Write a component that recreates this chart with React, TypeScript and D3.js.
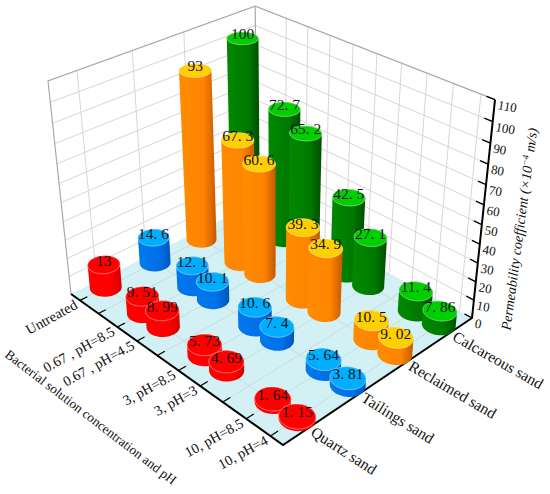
import * as d3 from "d3";

type Pt = [number, number];

const sands = ["Quartz sand", "Tailings sand", "Reclaimed sand", "Calcareous sand"];
const sandPositions = [1, 2, 3, 4];
const sandLabelAngles = [33, 32, 30.5, 29.5];
const categories = ["Untreated", "0.67 , pH=8.5", "0.67 , pH=4.5", "3, pH=8.5", "3, pH=3", "10, pH=8.5", "10, pH=4"];
const categoryPositions = [1, 3, 4, 6, 7, 9, 10];
const categoryTicks = [1, 2, 3, 4, 5, 6, 7, 8, 9, 10];
const zTicks = [0, 10, 20, 30, 40, 50, 60, 70, 80, 90, 100, 110];

const quartz = [13, 9.51, 8.99, 5.73, 4.69, 1.64, 1.15];
const tailings = [14.6, 12.1, 10.1, 10.6, 7.4, 5.64, 3.81];
const reclaimed = [93, 67.3, 60.6, 39.3, 34.9, 10.5, 9.02];
const calcareous = [100, 72.7, 65.2, 42.5, 27.1, 11.4, 7.86];
const sandValues = [quartz, tailings, reclaimed, calcareous];

const topColors = ["#ff0000", "#00aeff", "#ffd000", "#00d000"];
const sideStops = [
  ["#ff0000", "#ff0000", "#d40000"],
  ["#0078ee", "#0070e8", "#0056c0"],
  ["#ff8c00", "#ff8400", "#c45a00"],
  ["#008a00", "#007800", "#004c00"],
];

// picture corners of the box, the projection is solved from them
const cornerL: Pt = [71, 294];
const cornerF: Pt = [283, 445];
const cornerR: Pt = [472, 318];
const cornerB: Pt = [257, 202];
const cornerLT: Pt = [48, 81];
const cornerRT: Pt = [495, 98];

function buildCamera() {
  const [x0, y0] = cornerL, [x1, y1] = cornerF, [x2, y2] = cornerR, [x3, y3] = cornerB;
  const sx = x0 - x1 + x2 - x3;
  const sy = y0 - y1 + y2 - y3;
  const dx1 = x1 - x2, dx2 = x3 - x2, dy1 = y1 - y2, dy2 = y3 - y2;
  const det = dx1 * dy2 - dx2 * dy1;
  const g = (sx * dy2 - dx2 * sy) / det;
  const h = (dx1 * sy - sx * dy1) / det;
  const c1 = [x1 - x0 + g * x1, y1 - y0 + g * y1, g];
  const c2 = [x3 - x0 + h * x3, y3 - y0 + h * y3, h];
  const c4 = [x0, y0, 1];
  const lt = [cornerLT[0], cornerLT[1], 1];
  const s = [c1[0] + c2[0], c1[1] + c2[1], c1[2] + c2[2]];
  const k = (s[0] - cornerRT[0] * s[2]) / (cornerRT[0] - lt[0]);
  const c3 = [k * lt[0] - c4[0], k * lt[1] - c4[1], k - c4[2]];
  return (a: number, b: number, c: number): Pt => {
    const w = c1[2] * a + c2[2] * b + c3[2] * c + c4[2];
    return [
      (c1[0] * a + c2[0] * b + c3[0] * c + c4[0]) / w,
      (c1[1] * a + c2[1] * b + c3[1] * c + c4[1]) / w,
    ];
  };
}

const project = buildCamera();
const uScale = d3.scaleLinear().domain([0.5, 10.5]).range([0, 1]);
const vScale = d3.scaleLinear().domain([0.5, 4.5]).range([0, 1]);
const zScale = d3.scaleLinear().domain([0, 110]).range([0, 1]);

// floor fractions are not a true square, these keep the rims level
const RADIUS_A = 0.054;
const RADIUS_B = 0.0615;
const angles = d3.range(0, Math.PI * 2, Math.PI / 24);
const linePath = d3.line<Pt>();

const seg = (p: Pt, q: Pt) => linePath([p, q]) as string;
const poly = (pts: Pt[]) => (linePath(pts) as string) + "Z";

function circleAt(a: number, b: number, c: number): Pt[] {
  return angles.map((t) => project(a + RADIUS_A * Math.cos(t), b + RADIUS_B * Math.sin(t), c));
}

const bars = sandValues
  .flatMap((values, si) =>
    values.map((value, ci) => {
      const a = uScale(categoryPositions[ci]);
      const b = vScale(sandPositions[si]);
      const c = zScale(value);
      const base = circleAt(a, b, 0);
      const top = circleAt(a, b, c);
      return {
        si,
        value,
        depth: a - b,
        body: d3.polygonHull([...base, ...top]) as Pt[],
        top,
        center: project(a, b, c),
      };
    })
  )
  .sort((p, q) => d3.ascending(p.depth, q.depth));

const serif = "'Liberation Serif', 'Times New Roman', serif";

export default function App() {
  const floor = [project(0, 0, 0), project(1, 0, 0), project(1, 1, 0), project(0, 1, 0)];
  const grey = "#d6d6d6";
  const edge = "#a9a9a9";

  return (
    <svg
      width={550}
      height={494}
      style={{ position: "absolute", left: 0, top: 0, display: "block", background: "#fff" }}
      fontFamily={serif}
    >
      <defs>
        {sideStops.map((stops, i) => (
          <linearGradient key={i} id={`side-${i}`} x1="0" y1="0" x2="1" y2="0">
            <stop offset="0%" stopColor={stops[0]} />
            <stop offset="65%" stopColor={stops[1]} />
            <stop offset="100%" stopColor={stops[2]} />
          </linearGradient>
        ))}
      </defs>

      {/* back walls */}
      <g fill="none" stroke={grey} strokeWidth={1}>
        {zTicks.slice(1, -1).map((z) => (
          <path key={z} d={linePath([project(0, 0, zScale(z)), project(0, 1, zScale(z)), project(1, 1, zScale(z))]) as string} />
        ))}
        {sandPositions.slice(0, 3).map((v) => (
          <path key={v} d={seg(project(0, vScale(v), 0), project(0, vScale(v), 1))} />
        ))}
        {categoryTicks.slice(1).map((u) => (
          <path key={u} d={seg(project(uScale(u), 1, 0), project(uScale(u), 1, 1))} />
        ))}
      </g>
      <path
        d={linePath([project(0, 0, 0), project(0, 0, 1), project(0, 1, 1), project(1, 1, 1)]) as string}
        fill="none"
        stroke={edge}
        strokeWidth={1.2}
      />
      <path d={seg(project(0, 1, 0), project(0, 1, 1))} fill="none" stroke={edge} strokeWidth={1.2} />

      {/* floor */}
      <path d={poly(floor)} fill="#d3f1f4" />
      <g fill="none" stroke="#c4dde0" strokeWidth={1}>
        {categoryTicks.map((u) => (
          <path key={u} d={seg(project(uScale(u), 0, 0), project(uScale(u), 1, 0))} />
        ))}
        {sandPositions.map((v) => (
          <path key={v} d={seg(project(0, vScale(v), 0), project(1, vScale(v), 0))} />
        ))}
      </g>

      {/* axes */}
      <g fill="none" stroke="#000">
        <path d={linePath([project(0, 0, 0), project(1, 0, 0), project(1, 1, 0), project(1, 1, 1)]) as string} strokeWidth={2} />
        {categoryTicks.map((u) => (
          <path key={u} d={seg(project(uScale(u), 0, 0), project(uScale(u), 0.035, 0))} strokeWidth={1.2} />
        ))}
        {sandPositions.map((v) => (
          <path key={v} d={seg(project(1, vScale(v), 0), project(0.97, vScale(v), 0))} strokeWidth={1.2} />
        ))}
        {zTicks.map((z) => (
          <path key={z} d={seg(project(1, 1, zScale(z)), project(0.97, 1, zScale(z)))} strokeWidth={1.4} />
        ))}
      </g>

      {/* cylinders, far ones first */}
      {bars.map((bar, i) => (
        <g key={i}>
          <path d={poly(bar.body)} fill={`url(#side-${bar.si})`} />
          <path d={poly(bar.top)} fill={topColors[bar.si]} stroke="#fff" strokeOpacity={0.4} strokeWidth={1} />
        </g>
      ))}

      {/* value labels */}
      <g fontSize={15.5} fill="#141414" textAnchor="middle">
        {bars.map((bar, i) => (
          <text key={i} x={bar.center[0]} y={bar.center[1] + 1}>
            {String(bar.value).replace(".", ". ")}
          </text>
        ))}
      </g>

      {/* category labels */}
      <g fontSize={14.3} fill="#111" textAnchor="end">
        {categories.map((label, i) => {
          const [x, y] = project(uScale(categoryPositions[i]), 0, 0);
          return (
            <text key={label} transform={`translate(${x - 4},${y + 3}) rotate(-29)`} dy="0.35em">
              {label}
            </text>
          );
        })}
      </g>

      {/* sand labels */}
      <g fontSize={15.5} fill="#111">
        {sands.map((label, i) => {
          const [x, y] = project(1, vScale(sandPositions[i]), 0);
          return (
            <text key={label} transform={`translate(${x + 3},${y + 3}) rotate(${sandLabelAngles[i]})`} dy="0.35em">
              {label}
            </text>
          );
        })}
      </g>

      {/* z tick labels */}
      <g fontSize={13} fill="#111">
        {zTicks.map((z) => {
          const [x, y] = project(1, 1, zScale(z));
          return (
            <text key={z} transform={`translate(${x + 3},${y + 5}) rotate(10)`} dy="0.35em">
              {z}
            </text>
          );
        })}
      </g>

      {/* axis titles */}
      <text transform="translate(91,417) rotate(37.5)" fontSize={13.3} fill="#111" textAnchor="middle" dy="0.35em">
        Bacterial solution concentration and pH
      </text>
      <text transform="translate(519,229) rotate(-82.4)" fontSize={14} fill="#111" fontStyle="italic" textAnchor="middle" dy="0.35em">
        Permeability coefficient (×10
        <tspan fontSize={9} dy={-5}>−4</tspan>
        <tspan dy={5}> m/s)</tspan>
      </text>
    </svg>
  );
}
